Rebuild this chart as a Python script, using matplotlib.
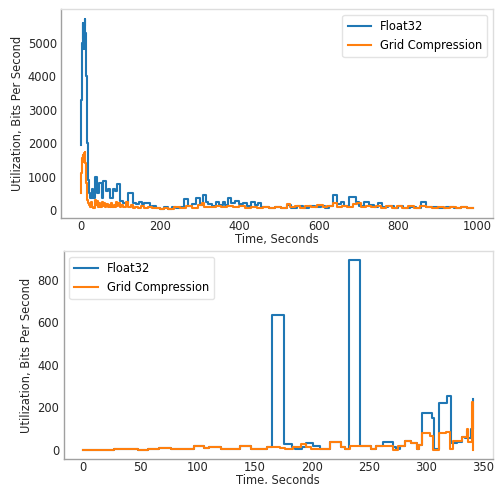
import matplotlib
matplotlib.use("Agg")
import matplotlib.pyplot as plt

# ---------------- data: top panel (change points, steps-post) ----------------
top_float32_t = [0, 1, 2, 3, 4, 5, 6, 7, 8, 9, 10, 11, 12, 13, 14, 15, 16, 17, 18, 19, 20,
                 23.5, 27.7, 31.9, 36.1, 42, 47, 53, 57.2, 63.9, 69.8, 74, 80.8, 86.7, 92.6, 99.3,
                 107.7, 120.4, 133, 140, 147, 154, 160, 166.7, 175, 180, 190, 200, 210, 220, 230,
                 240, 250, 260, 270, 280, 290, 300, 308, 315, 322,
                 330, 340, 350, 358, 365, 372, 380, 390, 400, 410, 420, 430, 440, 448, 455, 465, 475,
                 490, 505, 520, 530, 545, 560, 575, 590, 605, 615, 625, 636, 646, 656, 664, 676, 686,
                 694, 702, 715, 728, 740, 750, 760, 775, 790, 800, 812, 830, 845, 858, 870, 885, 900,
                 920, 940, 960, 975, 990]
top_float32_v = [1950, 2600, 3300, 4200, 5000, 5600, 5500, 5100, 4800, 5500, 5650, 5720, 5300, 4700,
                 4000, 3300, 2600, 2000, 1400, 900, 500,
                 370, 620, 370, 1000, 520, 820, 370, 870, 570, 620, 370, 620, 570, 770, 270,
                 220, 500, 220, 170, 230, 170, 200, 200, 100, 120, 50, 40, 80, 40, 80,
                 50, 100, 330, 120, 180, 350, 150, 450, 250, 170,
                 120, 230, 150, 250, 150, 350, 200, 280, 170, 220, 130, 230, 140,
                 200, 80, 100, 60, 90, 60, 150, 60, 110, 60, 120, 90, 120, 60, 120, 440, 180, 230, 120,
                 400, 380, 250, 130, 230, 150, 90, 220, 80, 110, 70, 130, 70, 100, 70, 230, 80, 100,
                 60, 90, 60, 90, 70, 70]

top_grid_t = [0, 1, 2, 3, 4, 5, 6, 7, 8, 9, 10, 11, 12, 13, 14, 15, 16, 18, 20, 23, 26, 29, 32, 35,
              38, 41, 44, 47, 50, 53, 56, 59, 62, 65, 68, 71, 74, 77, 80, 83, 86, 89, 92, 95, 98, 102,
              108, 114, 120, 126, 132, 138, 145, 152, 160, 170, 180, 190, 200, 210, 220, 235, 250, 265,
              280, 295, 305, 312, 325, 340, 355, 370, 385, 400, 415, 430, 445, 460, 475, 490, 505, 520,
              528, 540, 552, 565, 580, 595, 610, 622, 636, 645, 660, 672, 686, 696, 706, 720, 732, 745,
              758, 770, 785, 798, 810, 825, 840, 855, 870, 885, 900, 915, 930, 945, 960, 975, 990]
top_grid_v = [500, 800, 1100, 1400, 1550, 1650, 1550, 1450, 1600, 1700, 1750, 1600, 1400, 1100, 800,
              500, 300, 200, 150, 80, 250, 100, 50, 300, 150, 280, 100, 200, 90, 250, 120, 200, 100,
              180, 90, 150, 100, 220, 90, 150, 100, 250, 130, 200, 90, 150, 80, 250, 100, 150, 60,
              100, 60, 110, 60, 80, 50, 70, 40, 70, 40, 80, 60, 110, 70, 140, 200, 100, 80, 120, 80,
              120, 80, 110, 70, 100, 60, 90, 50, 90, 60, 180, 80, 120, 60, 130, 90, 140, 90, 130, 200,
              90, 130, 90, 170, 220, 80, 130, 80, 120, 70, 110, 60, 120, 70, 110, 60, 110, 90, 60,
              100, 60, 100, 60, 100, 60, 60]

# ---------------- data: bottom panel (change points, steps-post) ----------------
bot_float32_t = [0, 27, 37.4, 47.7, 56.5, 66.6, 76.9, 82.7, 91.5, 97, 106, 110.5, 120.7, 129.5, 137,
                 147, 154, 161, 165.6, 175.6, 182.7, 185.7, 191.5, 195.2, 201, 207, 215.6, 226, 228.8,
                 232.3, 242.5, 252.2, 256.5, 262, 271, 274, 277, 281.4, 287.2, 291.6, 293.7, 296.6,
                 304.7, 307, 311, 318, 321.4, 326.7, 331, 334, 336, 337, 339, 340.8]
bot_float32_v = [0, 3, 5, 0, 3, 9, 6, 5, 3, 20, 9, 15, 6, 3, 17, 6, 3, 12, 634, 28, 15, 5, 15, 31,
                 20, 5, 36, 15, 3, 890, 20, 3, 19, 37, 15, 3, 19, 42, 31, 3, 23, 175, 152, 3, 222,
                 253, 31, 39, 62, 55, 90, 55, 100, 240]

bot_grid_t = [0, 27, 37.4, 47.7, 56.5, 66.6, 76.9, 82.7, 91.5, 97, 106, 110.5, 120.7, 129.5, 137,
              147, 154, 161, 164.5, 171.8, 176.2, 183.5, 190.8, 195.2, 199.6, 215.6, 226, 228.8,
              233.2, 252.2, 256.5, 271, 275.5, 281.4, 287.2, 291.6, 293.7, 296.6, 303.3, 306.2,
              311.2, 317, 320.8, 323.8, 331, 335.5, 337, 340, 341.4]
bot_grid_v = [0, 3, 5, 0, 3, 9, 6, 5, 3, 20, 9, 15, 6, 3, 17, 6, 3, 12, 15, 8, 5, 15, 29, 15, 5, 36,
              15, 3, 20, 3, 19, 0, 19, 42, 31, 3, 23, 81, 65, 0, 81, 85, 5, 43, 62, 100, 39, 225, 0]

series_labels = ["Float32", "Grid Compression"]
top_xticks = [0, 200, 400, 600, 800, 1000]
top_yticks = [0, 1000, 2000, 3000, 4000, 5000]
bot_xticks = [0, 50, 100, 150, 200, 250, 300, 350]
bot_yticks = [0, 200, 400, 600, 800]
x_label = "Time, Seconds"
y_label = "Utilization, Bits Per Second"

# ---------------- drawing ----------------
plt.rcParams['font.family'] = ['DejaVu Sans']
FS = 8.3
W, H = 503, 484
fig = plt.figure(figsize=(W / 100, H / 100), dpi=100)

ax1 = fig.add_axes([61 / W, 1 - 218.3 / H, (493 - 61) / W, (218.3 - 9) / H])
ax2 = fig.add_axes([63.5 / W, 1 - 459.4 / H, (493 - 63.5) / W, (459.4 - 251) / H])

blue, orange = "#1f77b4", "#ff7f0e"

ax1.plot(top_float32_t, top_float32_v, drawstyle="steps-post", color=blue, lw=1.5, label=series_labels[0])
ax1.plot(top_grid_t, top_grid_v, drawstyle="steps-post", color=orange, lw=1.5, label=series_labels[1])
ax2.plot(bot_float32_t, bot_float32_v, drawstyle="steps-post", color=blue, lw=1.5, label=series_labels[0])
ax2.plot(bot_grid_t, bot_grid_v, drawstyle="steps-post", color=orange, lw=1.5, label=series_labels[1])

for ax, xt, yt, loc in [(ax1, top_xticks, top_yticks, "upper right"),
                        (ax2, bot_xticks, bot_yticks, "upper left")]:
    ax.set_xticks(xt)
    ax.set_yticks(yt)
    ax.tick_params(axis="x", length=0, labelsize=FS, labelcolor="#262626", pad=1.5)
    ax.set_xlabel(x_label, fontsize=FS, color="#262626", labelpad=-0.2)
    ax.tick_params(axis="y", length=0, labelsize=FS, labelcolor="#262626", pad=3)
    ax.set_ylabel(y_label, fontsize=FS, color="#262626", labelpad=3)
    for side in ["left", "bottom"]:
        ax.spines[side].set_color("#a0a0a0")
    for side in ["top", "right"]:
        ax.spines[side].set_color("#dddddd")
    for s in ax.spines.values():
        s.set_linewidth(1.0)
    leg = ax.legend(loc=loc, fontsize=FS, frameon=True, fancybox=True, framealpha=0.8,
                    edgecolor="#dddddd", borderpad=0.45)

fig.savefig("out.png", dpi=100)
